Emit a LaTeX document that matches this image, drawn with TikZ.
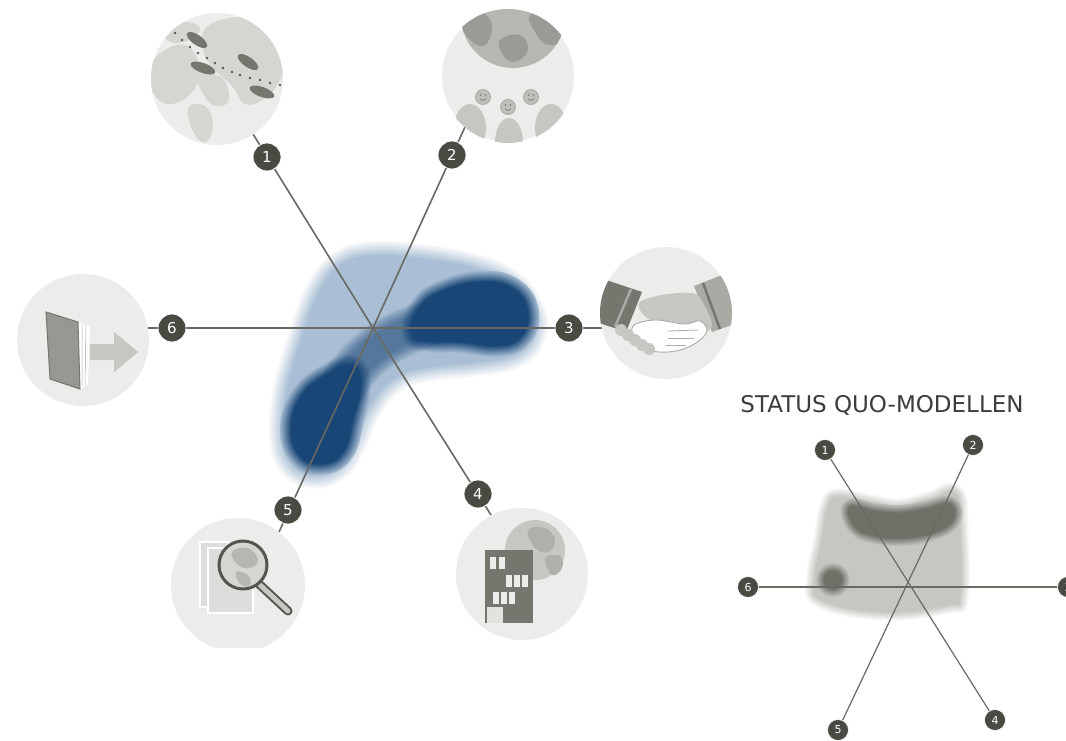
\documentclass[tikz,border=0pt]{standalone}
\usepackage{fontspec}
\setmainfont{DejaVu Sans}
\definecolor{iconbg}{RGB}{236,236,234}
\definecolor{land}{RGB}{213,213,210}
\definecolor{land2}{RGB}{198,198,194}
\definecolor{icmid}{RGB}{170,170,165}
\definecolor{icdark}{RGB}{118,117,110}
\definecolor{icdarker}{RGB}{85,85,79}
\definecolor{badgec}{RGB}{74,74,67}
\definecolor{linec}{RGB}{105,105,100}
\definecolor{lb}{RGB}{170,191,213}
\definecolor{db}{RGB}{24,70,118}
\definecolor{lg}{RGB}{198,198,194}
\definecolor{dg}{RGB}{112,112,104}
\definecolor{titlec}{RGB}{60,60,60}
\newcommand\blurpath[4]{%
  \foreach \k in {0,...,19}{%
    \pgfmathsetmacro\bw{#4*(20-\k)/20}%
    \pgfmathtruncatemacro\bp{100*(\k+1)/21}%
    \path[draw=#2!\bp!#3, fill=#2!\bp!#3, line width=\bw pt, line join=round] #1;}%
  \path[fill=#2] #1;}
\def\blobA{plot[smooth cycle, tension=0.7] coordinates {(318,295) (340,266) (370,256) (415,258) (472,268) (510,284) (530,310) (532,334) (514,354) (474,362) (427,367) (394,378) (368,407) (352,443) (338,465) (315,474) (293,464) (284,438) (287,392) (300,345)}}
\def\blobR{plot[smooth cycle, tension=0.75] coordinates {(440,292) (478,282) (512,288) (528,312) (520,338) (495,346) (460,342) (428,341) (412,333) (420,308)}}
\def\blobL{plot[smooth cycle, tension=0.75] coordinates {(302,395) (328,374) (352,366) (360,385) (353,420) (343,452) (322,464) (300,456) (291,428)}}
\def\blobC{plot[smooth cycle, tension=0.7] coordinates {(838,497) (870,503) (900,507) (930,500) (955,493) (960,530) (960,595) (948,605) (883,612) (822,600) (815,578) (822,540) (828,508)}}
\def\blobD{plot[smooth cycle, tension=0.7] coordinates {(850,507) (875,511) (900,513) (925,509) (950,504) (953,520) (935,532) (905,538) (875,536) (855,527)}}
\def\blobE{(833,580) circle[radius=9]}
\tikzset{
  iconc/.style={circle, fill=iconbg, minimum size=132pt, inner sep=0pt},
  badge/.style={circle, fill=badgec, draw=white, line width=0.8pt, text=white, minimum size=28pt, inner sep=0pt, font=\fontsize{15}{15}\selectfont},
  sbadge/.style={circle, fill=badgec, draw=white, line width=0.6pt, text=white, minimum size=21pt, inner sep=0pt, font=\fontsize{11}{11}\selectfont},
  mainline/.style={draw=linec, line width=1.6pt},
  smallline/.style={draw=linec, line width=1.2pt},
  titletext/.style={text=titlec, font=\fontsize{23}{23}\selectfont, inner sep=0pt}
}
\begin{document}
\begin{tikzpicture}[x=1pt,y=-1pt]
\useasboundingbox (0,0) rectangle (1066,741);
\fill[white] (0,0) rectangle (1066,741);
% ---------- main blobs
\blurpath{\blobA}{lb}{white}{30}
\blurpath{\blobR}{db}{lb}{22}
\blurpath{\blobL}{db}{lb}{22}
\foreach \w in {48,45,...,22}
  \draw[db, opacity=0.09, line width=\w pt, line cap=round] (336,400) .. controls (358,352) and (392,334) .. (440,320);
% ---------- small blobs
\blurpath{\blobC}{lg}{white}{18}
\blurpath{\blobD}{dg}{lg}{16}
\blurpath{\blobE}{dg}{lg}{16}
% ---------- main coordinates
\coordinate (H) at (373,328);
\coordinate (e1) at (253,134);
\coordinate (e4) at (491,515);
\coordinate (e2) at (465,127);
\coordinate (e5) at (279,532);
\coordinate (e6) at (148,328);
\coordinate (e3) at (602,328);
\draw[mainline] (e1) -- (H) -- (e4);
\draw[mainline] (e2) -- (H) -- (e5);
\draw[mainline] (e6) -- (H) -- (e3);
% ---------- icon 1 : globe with footprints
\node[iconc] (c1) at (217,79) {};
\begin{scope}
\clip (c1.center) circle[radius=66];
\fill[land] plot[smooth cycle, tension=0.7] coordinates {(158,55) (185,45) (200,68) (192,92) (172,104) (155,96) (150,75)};
\fill[land] plot[smooth cycle, tension=0.7] coordinates {(208,26) (245,17) (272,28) (285,55) (279,82) (262,100) (245,104) (232,86) (215,70) (203,50)};
\fill[land] plot[smooth cycle, tension=0.7] coordinates {(188,108) (205,106) (213,124) (206,142) (194,133)};
\fill[land] plot[smooth cycle, tension=0.7] coordinates {(198,74) (222,78) (229,100) (215,106) (202,92)};
\fill[land] plot[smooth cycle, tension=0.7] coordinates {(165,30) (185,22) (200,28) (190,40) (170,42)};
\fill[icdark] (197,40) ellipse[x radius=12, y radius=5, rotate=-35];
\fill[icdark] (203,68) ellipse[x radius=13, y radius=5, rotate=-20];
\fill[icdark] (248,62) ellipse[x radius=12, y radius=5, rotate=-35];
\fill[icdark] (262,92) ellipse[x radius=13, y radius=5, rotate=-20];
\foreach \px/\py in {175/33,182/40,190/47,198/53,207/58,215/63,223/68,232/72,240/75,250/78,260/80,270/83,280/85}
  \fill[icdarker] (\px,\py) circle[radius=1.4];
\end{scope}
% ---------- icon 2 : globe and people
\node[iconc] (c2) at (508,76) {};
\begin{scope}
\clip (c2.center) circle[radius=67];
\fill[icmid!85!white] (513,16) circle[radius=52];
\begin{scope}
\clip (513,16) circle[radius=52];
\fill[icmid!70!icdark] plot[smooth cycle, tension=0.7] coordinates {(460,20) (480,12) (492,25) (485,45) (470,40)};
\fill[icmid!70!icdark] plot[smooth cycle, tension=0.7] coordinates {(500,40) (520,35) (528,50) (515,62) (503,55)};
\fill[icmid!70!icdark] plot[smooth cycle, tension=0.7] coordinates {(530,15) (555,18) (565,38) (548,45) (535,32)};
\end{scope}
\fill[land2] (470,128) ellipse[x radius=16, y radius=24];
\fill[land2] (509,142) ellipse[x radius=14, y radius=24];
\fill[land2] (551,128) ellipse[x radius=16, y radius=24];
\foreach \hx/\hy in {483/97,508/107,531/97}{
  \filldraw[fill=land2!90!icdark, draw=icmid, line width=0.8] (\hx,\hy) circle[radius=7.5];
  \fill[icdark] (\hx-2.5,\hy-2) circle[radius=0.8];
  \fill[icdark] (\hx+2.5,\hy-2) circle[radius=0.8];
  \draw[icdark, line width=0.6] (\hx-3,\hy+1.5) .. controls (\hx-1,\hy+4) and (\hx+1,\hy+4) .. (\hx+3,\hy+1.5);
}
\end{scope}
% ---------- icon 3 : handshake
\node[iconc] (c3) at (666,313) {};
\begin{scope}
\clip (c3.center) circle[radius=66];
\fill[icdark] (600,278) -- (642,292) -- (626,332) -- (596,322) -- cycle;
\draw[icmid, line width=2.5] (631,289) -- (615,327);
\fill[icmid] (694,286) -- (740,268) -- (740,322) -- (712,332) -- cycle;
\draw[icdark, line width=2.5] (703,283) -- (720,329);
\fill[land2] plot[smooth cycle, tension=0.6] coordinates {(640,302) (662,295) (688,293) (700,298) (712,326) (695,333) (675,322) (655,322) (642,313)};
\filldraw[fill=white, draw=icmid, line width=0.9] plot[smooth cycle, tension=0.6] coordinates {(633,326) (655,320) (684,324) (700,321) (707,331) (696,343) (676,351) (652,351) (636,341)};
\draw[icmid, line width=0.8] (668,331) -- (698,330);
\draw[icmid, line width=0.8] (668,338) -- (694,338);
\draw[icmid, line width=0.8] (666,345) -- (686,345);
\foreach \sx/\sy in {621/330,628/335,635/340,642/345,649/349}
  \fill[land2] (\sx,\sy) circle[radius=6];
\end{scope}
% ---------- icon 4 : building and globe
\node[iconc] (c4) at (522,574) {};
\begin{scope}
\clip (c4.center) circle[radius=66];
\fill[land2] (535,550) circle[radius=30];
\fill[icmid!80!land2] plot[smooth cycle, tension=0.7] coordinates {(528,530) (545,528) (555,540) (548,552) (535,548)};
\fill[icmid!80!land2] plot[smooth cycle, tension=0.7] coordinates {(545,558) (560,556) (562,568) (552,575)};
\fill[icdark] (485,550) rectangle (533,623);
\fill[iconbg] (490,557) rectangle (496,569);
\fill[iconbg] (499,557) rectangle (505,569);
\fill[iconbg] (506,575) rectangle (512,587);
\fill[iconbg] (514,575) rectangle (520,587);
\fill[iconbg] (522,575) rectangle (528,587);
\fill[iconbg] (493,592) rectangle (499,604);
\fill[iconbg] (501,592) rectangle (507,604);
\fill[iconbg] (509,592) rectangle (515,604);
\fill[land!70!white] (487,607) rectangle (503,623);
\end{scope}
% ---------- icon 5 : magnifier
\begin{scope}
\clip (0,0) rectangle (1066,647);
\node[iconc, minimum size=134pt] (c5) at (238,585) {};
\end{scope}
\begin{scope}
\clip (c5.center) circle[radius=67];
\filldraw[fill=land!80!white, draw=white, line width=1.6] (200,542) rectangle (228,607);
\filldraw[fill=land!80!white, draw=white, line width=1.6] (208,548) rectangle (253,613);
\draw[icdarker, line width=9, line cap=round] (259,584) -- (288,611);
\draw[land2, line width=5, line cap=round] (259,584) -- (288,611);
\filldraw[fill=land, draw=icdarker, line width=3] (243,565) circle[radius=24];
\fill[icmid!70!land] plot[smooth cycle, tension=0.7] coordinates {(232,552) (248,548) (258,560) (250,568) (238,565)};
\fill[icmid!70!land] plot[smooth cycle, tension=0.7] coordinates {(236,572) (248,575) (250,585) (240,584)};
\end{scope}
% ---------- icon 6 : book with arrow
\node[iconc] (c6) at (83,340) {};
\fill[white] (76,321) -- (90,326) -- (88,384) -- (80,389) -- cycle;
\draw[icmid, line width=0.5] (82,324) -- (82,386) (86,325) -- (85,385);
\filldraw[fill=icdark!75!white, draw=icdark, line width=1] (46,312) -- (78,322) -- (80,389) -- (50,379) -- cycle;
\fill[land2] (90,344) -- (114,344) -- (114,332) -- (138,352) -- (114,372) -- (114,360) -- (90,360) -- cycle;
% ---------- main badges
\node[badge] (b1) at (267,157) {1};
\node[badge] (b2) at (452,155) {2};
\node[badge] (b3) at (569,328) {3};
\node[badge] (b4) at (478,494) {4};
\node[badge] (b5) at (288,510) {5};
\node[badge] (b6) at (172,328) {6};
% ---------- status quo model
\node[titletext] (title) at (882,405) {STATUS QUO-MODELLEN};
\node[sbadge] (s1) at (825,450) {1};
\node[sbadge] (s2) at (973,445) {2};
\node[sbadge] (s3) at (1068,587) {3};
\node[sbadge] (s4) at (995,720) {4};
\node[sbadge] (s5) at (838,730) {5};
\node[sbadge] (s6) at (748,587) {6};
\draw[smallline] (s1) -- (s4);
\draw[smallline] (s2) -- (s5);
\draw[smallline] (s6) -- (s3);
\end{tikzpicture}
\end{document}
